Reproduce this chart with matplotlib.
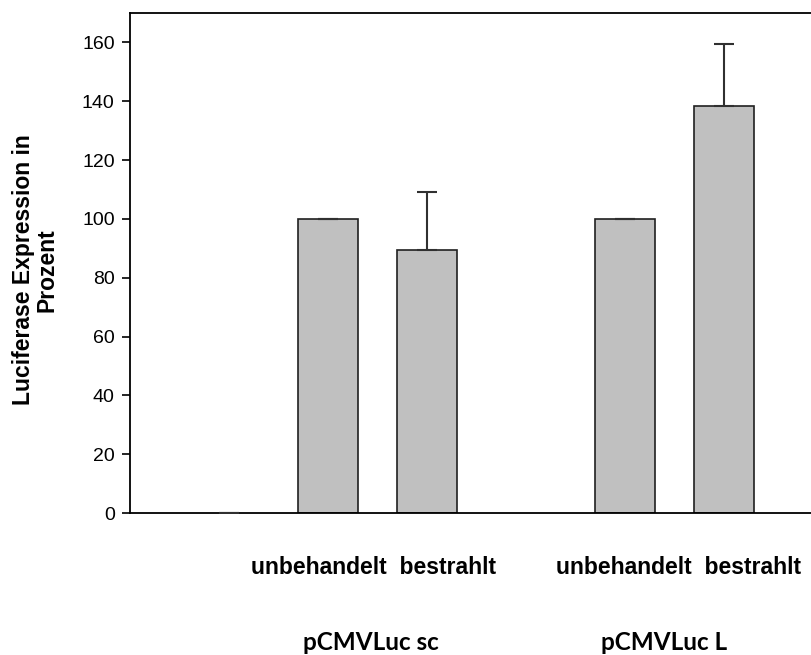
import matplotlib.pyplot as plt
import numpy as np

# bar slots, empty slot between the two plasmids
slots = [0, 1, 2, 4, 5]
values = [0, 100, 89.5, 100, 138.3]
errors = [0, 0, 19.8, 0, 21.1]

conditions = "unbehandelt  bestrahlt"
groups = ["pCMVLuc sc", "pCMVLuc L"]
cond_pos = [1.46, 4.545]
group_pos = [1.43, 4.39]

fig = plt.figure(figsize=(8.11, 6.55), dpi=100)
ax = fig.add_axes([130 / 811, 142 / 655, 693 / 811, 500 / 655])

edge_w = [0 if v == 0 else 1.2 for v in values]
ax.bar(slots, values, width=0.6, color="#c0c0c0", edgecolor="#202020", linewidth=edge_w, zorder=2)
ax.errorbar(slots, values, yerr=[np.zeros(len(errors)), errors], fmt="none",
            ecolor="#303030", elinewidth=1.5, capsize=7.5, capthick=1.5, zorder=3)

ax.set_xlim(-1, 6)
ax.set_ylim(0, 170)
ax.set_yticks(np.arange(0, 161, 20))
ax.set_xticks([])
ax.tick_params(axis="y", direction="out", length=6, width=1.2, labelsize=14, pad=5)
for lbl in ax.get_yticklabels():
    lbl.set_fontfamily("Liberation Sans")
for s in ax.spines.values():
    s.set_linewidth(1.3)
ax.spines["right"].set_visible(False)

ax.set_ylabel("Luciferase Expression in\nProzent", fontsize=16.5, fontweight="bold",
              family="Liberation Sans", linespacing=1.05)
ax.yaxis.set_label_coords(-0.103, 0.486)

tr = ax.get_xaxis_transform()
for x in cond_pos:
    ax.text(x, -0.11, conditions, transform=tr, ha="center", va="center",
            fontsize=16.5, fontweight="bold", family="Liberation Sans")
for x, g in zip(group_pos, groups):
    ax.text(x, -0.26, g, transform=tr, ha="center", va="center",
            fontsize=17.5, fontweight="bold", family="Lato")

fig.savefig("out.png", dpi=100)
